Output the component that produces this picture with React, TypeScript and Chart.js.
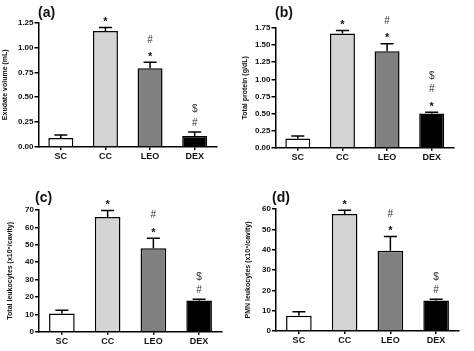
import React, { useEffect, useRef } from "react";
import { Chart, registerables } from "chart.js";

Chart.register(...registerables);

const FONT = '"Liberation Sans", Arial, Helvetica, sans-serif';

const groups = ["SC", "CC", "LEO", "DEX"];
const barColors = ["#ffffff", "#d4d4d4", "#808080", "#000000"];

// (a) Exudate volume (mL)
const exudateMean = [0.09, 1.165, 0.79, 0.11];
const exudateSem = [0.03, 0.035, 0.06, 0.04];
const exudateSig = [[], ["*"], ["*", "#"], ["#", "$"]];

// (b) Total protein (g/dL)
const proteinMean = [0.135, 1.67, 1.41, 0.5];
const proteinSem = [0.035, 0.045, 0.11, 0.02];
const proteinSig = [[], ["*"], ["*", "#"], ["*", "#", "$"]];

// (c) Total leukocytes (x10^6/cavity)
const leukoMean = [10.5, 66, 48, 18];
const leukoSem = [1.8, 3.7, 5.8, 0.6];
const leukoSig = [[], ["*"], ["*", "#"], ["#", "$"]];

// (d) PMN leukocytes (x10^6/cavity)
const pmnMean = [7.5, 57.6, 39.5, 15];
const pmnSem = [2.0, 1.8, 7.0, 0.6];
const pmnSig = [[], ["*"], ["*", "#"], ["#", "$"]];

type PanelCfg = {
  label: string;
  title: string;
  mean: number[];
  sem: number[];
  sig: string[][];
  max: number;
  step: number;
  decimals: number;
  left: number;
  top: number;
  width: number;
  height: number;
  padTop: number;
  padRight: number;
  yWidth: number;
  xHeight: number;
  titlePad: number;
  labelLeft: number;
  labelTop: number;
};

const panels: PanelCfg[] = [
  {
    label: "(a)", title: "Exudate volume (mL)", mean: exudateMean, sem: exudateSem, sig: exudateSig,
    max: 1.25, step: 0.25, decimals: 2,
    left: 0, top: 0, width: 237, height: 175, padTop: 22.5, padRight: 20, yWidth: 38.5, xHeight: 28, titlePad: 1,
    labelLeft: 38, labelTop: 5,
  },
  {
    label: "(b)", title: "Total protein (g/dL)", mean: proteinMean, sem: proteinSem, sig: proteinSig,
    max: 1.75, step: 0.25, decimals: 2,
    left: 237, top: 0, width: 237, height: 175, padTop: 28, padRight: 20, yWidth: 38.5, xHeight: 27.3, titlePad: 4,
    labelLeft: 38, labelTop: 5,
  },
  {
    label: "(c)", title: "Total leukocytes (x10\u2076/cavity)", mean: leukoMean, sem: leukoSem, sig: leukoSig,
    max: 70, step: 10, decimals: 0,
    left: 0, top: 175, width: 237, height: 176, padTop: 35, padRight: 15, yWidth: 39, xHeight: 19.3, titlePad: 6,
    labelLeft: 35, labelTop: 15,
  },
  {
    label: "(d)", title: "PMN leukocytes (x10\u2076/cavity)", mean: pmnMean, sem: pmnSem, sig: pmnSig,
    max: 60, step: 10, decimals: 0,
    left: 237, top: 175, width: 237, height: 176, padTop: 34, padRight: 15, yWidth: 39, xHeight: 20, titlePad: 7,
    labelLeft: 35, labelTop: 15,
  },
];

function makeErrPlugin(sem: number[], sig: string[][]) {
  return {
    id: "errbars",
    afterDatasetsDraw(chart: any) {
      const meta = chart.getDatasetMeta(0);
      const y = chart.scales.y;
      const ctx = chart.ctx;
      const vals = chart.data.datasets[0].data as number[];
      ctx.save();
      meta.data.forEach((bar: any, i: number) => {
        const v = vals[i];
        const base = y.getPixelForValue(v);
        const top = y.getPixelForValue(v + sem[i]);
        ctx.strokeStyle = "#000";
        ctx.lineWidth = 1.5;
        ctx.beginPath();
        ctx.moveTo(bar.x, base);
        ctx.lineTo(bar.x, top);
        ctx.moveTo(bar.x - 6.5, top);
        ctx.lineTo(bar.x + 6.5, top);
        ctx.stroke();
        ctx.textAlign = "center";
        ctx.textBaseline = "middle";
        sig[i].forEach((s, k) => {
          let yy = top - 9 - 13.5 * k;
          if (s === "*") {
            yy += 3.5;
            ctx.fillStyle = "#111";
            ctx.font = `bold 11px ${FONT}`;
          } else {
            ctx.fillStyle = "#333";
            ctx.font = `10px ${FONT}`;
          }
          ctx.fillText(s, bar.x, yy);
        });
      });
      ctx.restore();
    },
  };
}

function Panel({ cfg }: { cfg: PanelCfg }) {
  const ref = useRef<HTMLCanvasElement>(null);
  useEffect(() => {
    if (!ref.current) return;
    const chart = new Chart(ref.current, {
      type: "bar",
      data: {
        labels: groups,
        datasets: [
          {
            data: cfg.mean,
            backgroundColor: barColors,
            borderColor: "#000",
            borderWidth: 1.5,
            barPercentage: 0.56,
            categoryPercentage: 1,
          },
        ],
      },
      options: {
        responsive: false,
        animation: false,
        devicePixelRatio: 1,
        layout: { padding: { top: cfg.padTop, right: cfg.padRight, left: 0, bottom: 0 } },
        plugins: { legend: { display: false }, tooltip: { enabled: false } },
        scales: {
          x: {
            type: "category",
            offset: true,
            grid: { drawOnChartArea: false, offset: false, tickLength: 3, color: "#000", lineWidth: 1.5 },
            border: { color: "#000", width: 1.5 },
            ticks: { font: { family: FONT, size: 9, weight: "bold" }, color: "#111", padding: 1 },
            afterFit: (s: any) => {
              s.height = cfg.xHeight;
            },
          },
          y: {
            min: 0,
            max: cfg.max,
            grid: { drawOnChartArea: false, tickLength: 4, color: "#000", lineWidth: 1.5 },
            border: { color: "#000", width: 1.5 },
            ticks: {
              stepSize: cfg.step,
              font: { family: FONT, size: 8, weight: "bold" },
              color: "#111",
              padding: 1,
              callback: (v: any) => Number(v).toFixed(cfg.decimals),
            },
            title: {
              display: true,
              text: cfg.title,
              font: { family: FONT, size: 7, weight: "bold" },
              color: "#111",
              padding: { top: cfg.titlePad, bottom: 0 },
            },
            afterFit: (s: any) => {
              s.width = cfg.yWidth;
            },
          },
        },
      },
      plugins: [makeErrPlugin(cfg.sem, cfg.sig)],
    } as any);
    return () => chart.destroy();
  }, [cfg]);

  return (
    <div style={{ position: "absolute", left: cfg.left, top: cfg.top, width: cfg.width, height: cfg.height }}>
      <canvas ref={ref} width={cfg.width} height={cfg.height} style={{ width: cfg.width, height: cfg.height, display: "block" }} />
      <div
        style={{
          position: "absolute",
          left: cfg.labelLeft,
          top: cfg.labelTop,
          fontFamily: FONT,
          fontWeight: "bold",
          fontSize: 14,
          lineHeight: "14px",
          color: "#111",
        }}
      >
        {cfg.label}
      </div>
    </div>
  );
}

export default function App() {
  return (
    <div style={{ position: "absolute", left: 0, top: 0, width: 474, height: 351, background: "#fff", overflow: "hidden" }}>
      {panels.map((p) => (
        <Panel key={p.label} cfg={p} />
      ))}
    </div>
  );
}
